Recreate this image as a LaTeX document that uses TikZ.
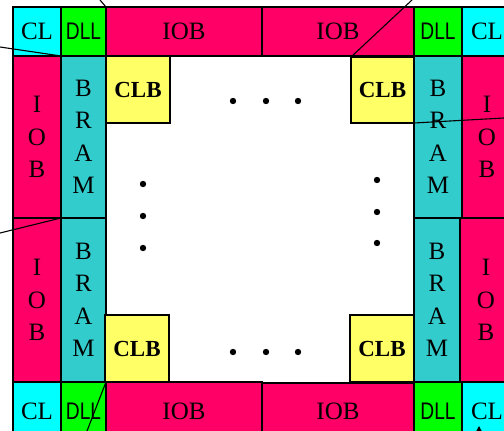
\documentclass[tikz,border=0pt]{standalone}
\usepackage{fontspec}
\setmainfont{Liberation Serif}
\newfontfamily\narrowsans[FakeStretch=0.8]{Liberation Sans}
\usepackage{tikz}
\usetikzlibrary{arrows.meta}
\usepackage{xcolor}
\definecolor{CLCyan}{HTML}{00FFFF}
\definecolor{DLLGreen}{HTML}{00FF00}
\definecolor{IOBPink}{HTML}{FF0066}
\definecolor{BRAMTeal}{HTML}{33CCCC}
\definecolor{CLBYellow}{HTML}{FFFF66}

\begin{document}
\begin{tikzpicture}[x=1pt, y=-1pt,
        box/.style={draw, line width=1.3pt, inner sep=0pt, outer sep=0pt, anchor=north west,
          align=center, font=\fontsize{25}{32.5}\selectfont},
        cl/.style={box, fill=CLCyan},
        dll/.style={box, fill=DLLGreen, font=\fontsize{24}{24}\narrowsans},
        iob/.style={box, fill=IOBPink},
        bram/.style={box, fill=BRAMTeal},
        clb/.style={box, fill=CLBYellow, font=\fontsize{23}{23}\selectfont\bfseries},
        wire/.style={line width=1.1pt},
      ]
      \useasboundingbox (0,0) rectangle (504,431);
      \clip (0,0) rectangle (504,431);
      % top row
      \node[cl,  minimum width=48,  minimum height=49] (clTL)  at (13,7)  {CL};
      \node[dll, minimum width=45,  minimum height=49] (dllTL) at (61,7)  {DLL};
      \node[iob, minimum width=156, minimum height=49] (iobTA) at (106,7) {IOB};
      \node[iob, minimum width=152, minimum height=49] (iobTB) at (262,7) {IOB};
      \node[dll, minimum width=48,  minimum height=49] (dllTR) at (414,7) {DLL};
      \node[cl,  minimum width=50,  minimum height=49] (clTR)  at (462,7) {CL};
      % left column
      \node[iob,  minimum width=48, minimum height=162] (iobLA)  at (13,56)  {I\\O\\B};
      \node[bram, minimum width=45, minimum height=162] (bramLA) at (61,56)  {B\\R\\A\\M};
      \node[iob,  minimum width=48, minimum height=164] (iobLB)  at (13,218) {I\\O\\B};
      \node[bram, minimum width=45, minimum height=164] (bramLB) at (61,218) {B\\R\\A\\M};
      % right column
      \node[bram, minimum width=48, minimum height=162] (bramRA) at (414,56)  {B\\R\\A\\M};
      \node[iob,  minimum width=50, minimum height=162] (iobRA)  at (462,56)  {I\\O\\B};
      \node[bram, minimum width=46, minimum height=164] (bramRB) at (414,218) {B\\R\\A\\M};
      \node[iob,  minimum width=52, minimum height=164] (iobRB)  at (460,218) {I\\O\\B};
      % bottom row
      \node[cl,  minimum width=48,  minimum height=58] (clBL)  at (13,382)  {CL};
      \node[dll, minimum width=45,  minimum height=58] (dllBL) at (61,382)  {DLL};
      \node[iob, minimum width=156, minimum height=58] (iobBA) at (106,382) {IOB};
      \node[iob, minimum width=152, minimum height=57] (iobBB) at (262,383) {IOB};
      \node[dll, minimum width=48,  minimum height=58] (dllBR) at (414,382) {DLL};
      \node[cl,  minimum width=50,  minimum height=58] (clBR)  at (462,382) {CL};
      % corner CLBs
      \node[clb, minimum width=64, minimum height=67] (clbTL) at (106,56)  {CLB};
      \node[clb, minimum width=63, minimum height=66] (clbTR) at (351,57)  {CLB};
      \node[clb, minimum width=64, minimum height=67] (clbBL) at (105,315) {CLB};
      \node[clb, minimum width=64, minimum height=67] (clbBR) at (350,315) {CLB};
      % dots
      \foreach \x in {233,266,298} {
        \fill (\x,101) circle[radius=3.2pt];
        \fill (\x,352) circle[radius=3.2pt];
      }
      \foreach \y in {184,216,248} \fill (143,\y) circle[radius=3.2pt];
      \foreach \y in {180,212,243} \fill (377,\y) circle[radius=3.2pt];
      % callout lines
      \coordinate (pA) at (100,0);
      \coordinate (pB) at (0,47);
      \coordinate (pC) at (412,0);
      \coordinate (pD) at (504,118);
      \coordinate (pE) at (0,233);
      \coordinate (pF) at (87,431);
      \coordinate (pG) at (479,440);
      \coordinate (pGtip) at (479,426);
      \draw[wire] (pA) -- (dllTL.north east);
      \draw[wire] (pB) -- (clTL.south east);
      \draw[wire] (pC) -- (clbTR.north west);
      \draw[wire] (clbTR.south east) -- (pD);
      \draw[wire] (pE) -- (iobLA.south east);
      \draw[wire] (pF) -- (dllBL.north east);
      \draw[wire, -{Triangle[length=5pt, width=5pt]}] (pG) -- (pGtip);
    \end{tikzpicture}
\end{document}
